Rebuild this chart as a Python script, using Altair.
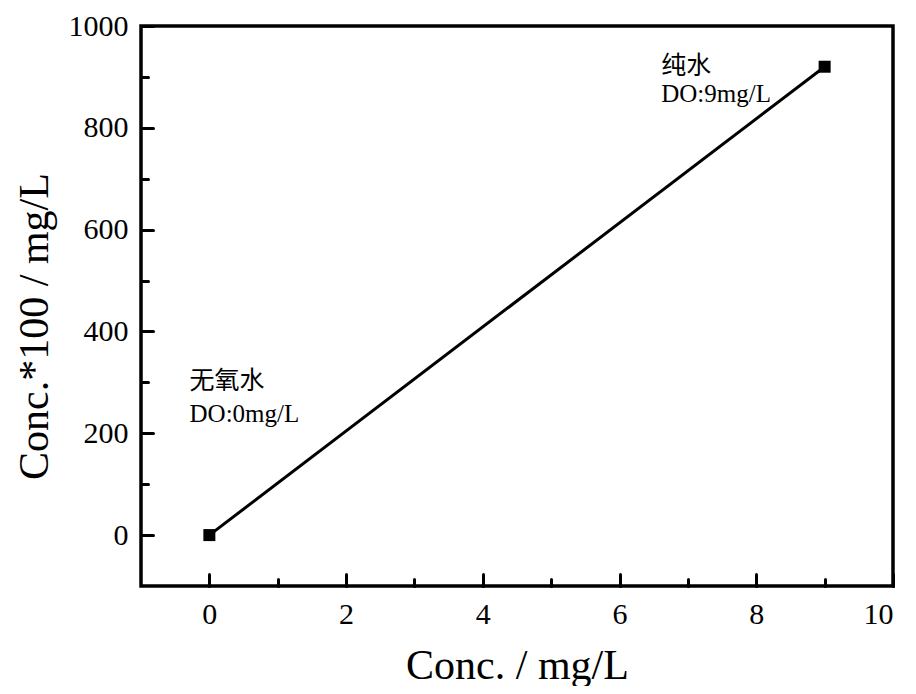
import altair as alt
import pandas as pd

# data
conc_x = [0, 9]
conc_y = [0, 920]

x_major = [0, 2, 4, 6, 8, 10]
x_minor = [1, 3, 5, 7, 9]
y_major = [0, 200, 400, 600, 800, 1000]
y_minor = [100, 300, 500, 700, 900]

ann_text = ["无氧水", "DO:0mg/L", "纯水", "DO:9mg/L"]
ann_x = [-0.29, -0.29, 6.61, 6.61]
ann_y = [287, 222, 906, 851]

df = pd.DataFrame({"x": conc_x, "y": conc_y})
ann = pd.DataFrame({"x": ann_x, "y": ann_y, "t": ann_text})

FONT = "Liberation Serif"
xs = alt.Scale(domain=[-1, 10], nice=False, zero=False)
ys = alt.Scale(domain=[-100, 1000], nice=False, zero=False)

common = dict(domain=False, grid=False, tickColor="black", tickWidth=3,
              tickCap="round", labelColor="black", titleColor="black")

x_label_axis = alt.Axis(values=x_major, orient="bottom", ticks=False, tickSize=0,
                        format="d", labelPadding=13, labelFont=FONT, labelFontSize=30,
                        title="Conc. / mg/L", titleFont=FONT, titleFontSize=42,
                        titleFontWeight="normal", titleY=92, titleBaseline="alphabetic",
                        **common)
y_label_axis = alt.Axis(values=y_major, orient="left", ticks=False, tickSize=0,
                        format="d", labelPadding=13, labelFont=FONT, labelFontSize=30,
                        title="Conc.*100 / mg/L", titleFont=FONT, titleFontSize=42,
                        titleFontWeight="normal", titleX=-94, titleY=300,
                        titleBaseline="alphabetic", titleAlign="center",
                        **common)

x_major_axis = alt.Axis(values=x_major, orient="bottom", offset=-12, tickSize=12,
                        labels=False, title=None, **common)
y_major_axis = alt.Axis(values=y_major, orient="left", offset=-12, tickSize=12,
                        labels=False, title=None, **common)
x_minor_axis = alt.Axis(values=x_minor, orient="bottom", offset=-7, tickSize=7,
                        labels=False, title=None, **common)
y_minor_axis = alt.Axis(values=y_minor, orient="left", offset=-7, tickSize=7,
                        labels=False, title=None, **common)

line = alt.Chart(df).mark_line(color="black", strokeWidth=3).encode(
    x=alt.X("x:Q", scale=xs, axis=x_label_axis),
    y=alt.Y("y:Q", scale=ys, axis=y_label_axis),
)

points = alt.Chart(df).mark_point(shape="square", filled=True, size=144,
                                  color="black", opacity=1).encode(
    x=alt.X("x:Q", scale=xs, axis=x_major_axis),
    y=alt.Y("y:Q", scale=ys, axis=y_major_axis),
)

texts = alt.Chart(ann).mark_text(font=f"{FONT}, Noto Sans CJK SC", fontSize=25,
                                 align="left", baseline="alphabetic",
                                 color="black").encode(
    x=alt.X("x:Q", scale=xs, axis=x_minor_axis),
    y=alt.Y("y:Q", scale=ys, axis=y_minor_axis),
    text="t:N",
)

chart = alt.layer(line, points, texts).resolve_axis(
    x="independent", y="independent"
).properties(
    width=752, height=560,
    autosize=alt.AutoSizeParams(type="none"),
    padding={"left": 133, "top": 18, "right": 10, "bottom": 100},
    background="white",
).configure_view(stroke="black", strokeWidth=3.5)

chart.save("out.html", embed_options={"renderer": "svg", "actions": False})
